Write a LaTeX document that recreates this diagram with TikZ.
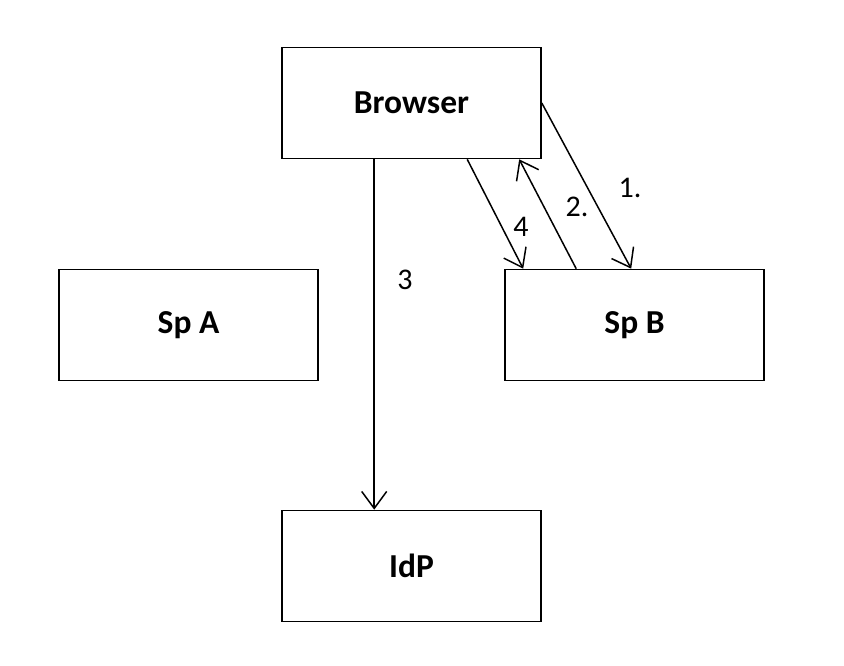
\documentclass[tikz,border=0pt]{standalone}
\usepackage{fontspec}
\setmainfont{Carlito}
\usetikzlibrary{positioning,calc,arrows.meta}

\begin{document}
\begin{tikzpicture}[
x=1pt, y=1pt,
box/.style={rectangle, draw=black, line width=1.6pt, minimum width=259pt, minimum height=111pt, inner sep=0pt, font=\fontsize{33.5}{38}\selectfont\bfseries},
flow/.style={line width=1.5pt, -{Straight Barb[length=17pt, width=25pt, line width=1.5pt]}},
num/.style={font=\fontsize{30}{34}\selectfont, inner sep=0pt},
]
\useasboundingbox (0,0) rectangle (844,-666);

\node[box] (browser) at (411.5,-103) {Browser};
\node[box] (spa) at (188.5,-325) {Sp A};
\node[box] (spb) at (634.5,-325) {Sp B};
\node[box] (idp) at (411.5,-566) {IdP};

% requests and replies
\draw[flow] ($(browser.south west)+(93,0)$) -- ($(idp.north west)+(93,0)$);
\draw[flow] (browser.east) -- ($(spb.north west)+(127,0)$);
\draw[flow] ($(spb.north west)+(72,0)$) -- ($(browser.south west)+(238,0)$);
\draw[flow] ($(browser.south west)+(186,0)$) -- ($(spb.north west)+(19,0)$);

\node[num] (l1) at (630,-188) {1.};
\node[num] (l2) at (577,-207) {2.};
\node[num] (l3) at (405,-280) {3};
\node[num] (l4) at (521,-227) {4};
\end{tikzpicture}
\end{document}
